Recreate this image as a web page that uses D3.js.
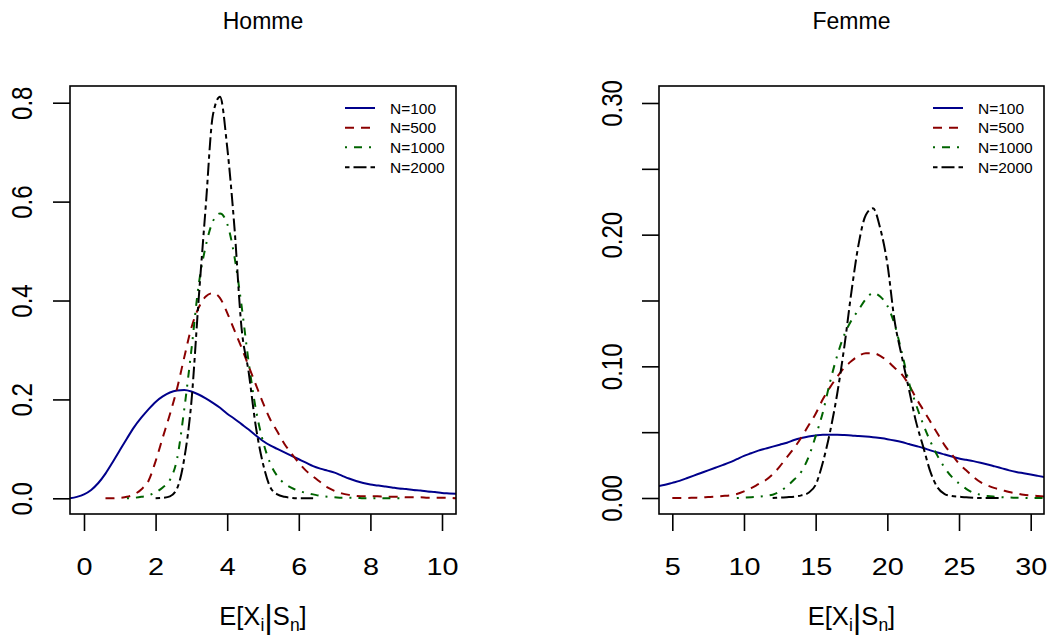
<!DOCTYPE html>
<html>
<head>
<meta charset="utf-8">
<script src="https://cdn.jsdelivr.net/npm/d3@7"></script>
<style>
  html, body { margin: 0; padding: 0; background: #fff; }
  svg { display: block; font-family: "Liberation Sans", Arial, Helvetica, sans-serif; }
</style>
</head>
<body>
<svg id="chart" width="1048" height="637"></svg>
<script>
// ---------------- DATA ----------------
const panelTitles = ["Homme", "Femme"];
const seriesNames = ["N=100", "N=500", "N=1000", "N=2000"];

const hommeX = [-0.4,-0.2,0.0,0.2,0.4,0.6,0.8,1.0,1.2,1.4,1.6,1.8,2.0,2.2,2.4,2.6,2.8,3.0,3.2,3.4,3.6,3.8,4.0,4.2,4.4,4.6,4.8,5.0,5.2,5.4,5.6,5.8,6.0,6.2,6.4,6.6,6.8,7.0,7.2,7.4,7.6,7.8,8.0,8.2,8.4,8.6,8.8,9.0,9.2,9.4,9.6,9.8,10.0,10.2,10.4];
const hommeN100 = [0.000,0.003,0.008,0.017,0.031,0.050,0.073,0.097,0.121,0.144,0.163,0.180,0.195,0.206,0.214,0.218,0.219,0.216,0.210,0.202,0.193,0.183,0.171,0.161,0.150,0.139,0.127,0.116,0.107,0.100,0.093,0.086,0.079,0.072,0.065,0.060,0.056,0.052,0.046,0.040,0.035,0.031,0.028,0.026,0.024,0.022,0.020,0.019,0.017,0.016,0.014,0.013,0.011,0.010,0.009];
const hommeN500 = [null,null,null,null,null,0.000,0.000,0.001,0.003,0.008,0.018,0.035,0.075,0.123,0.170,0.222,0.285,0.345,0.385,0.408,0.415,0.405,0.375,0.340,0.305,0.267,0.230,0.193,0.160,0.135,0.110,0.090,0.072,0.056,0.044,0.033,0.022,0.015,0.010,0.007,0.005,0.004,0.004,0.004,0.003,0.003,0.003,0.002,0.002,0.002,0.001,0.001,0.001,0.001,0.000];
const hommeN1000 = [null,null,null,null,null,null,null,null,0.000,0.001,0.003,0.006,0.012,0.022,0.037,0.080,0.180,0.300,0.430,0.510,0.560,0.576,0.555,0.490,0.390,0.275,0.180,0.115,0.071,0.045,0.030,0.021,0.015,0.011,0.008,0.005,0.003,0.002,0.001,0.001,0.001,0.000,0.000,0.000,0.000,0.000,0.000,0.000,null,null,null,null,null,null,null];
const hommeN2000 = [null,null,null,null,null,null,null,null,null,null,null,null,0.000,0.001,0.004,0.020,0.080,0.195,0.400,0.590,0.775,0.812,0.710,0.550,0.345,0.255,0.145,0.070,0.023,0.008,0.003,0.001,0.000,0.000,0.000,null,null,null,null,null,null,null,null,null,null,null,null,null,null,null,null,null,null,null,null];

const femmeX = [4.0,4.5,5.0,5.5,6.0,6.5,7.0,7.5,8.0,8.5,9.0,9.5,10.0,10.5,11.0,11.5,12.0,12.5,13.0,13.5,14.0,14.5,15.0,15.5,16.0,16.5,17.0,17.5,18.0,18.5,19.0,19.5,20.0,20.5,21.0,21.5,22.0,22.5,23.0,23.5,24.0,24.5,25.0,25.5,26.0,26.5,27.0,27.5,28.0,28.5,29.0,29.5,30.0,30.5,31.0];
const femmeN100 = [0.009,0.010,0.0115,0.013,0.015,0.017,0.019,0.021,0.023,0.025,0.027,0.0295,0.032,0.034,0.036,0.0375,0.039,0.0405,0.042,0.044,0.0455,0.0467,0.0475,0.048,0.048,0.048,0.0478,0.0475,0.047,0.0467,0.0462,0.0455,0.0447,0.0437,0.0425,0.041,0.0395,0.038,0.0362,0.0345,0.033,0.0315,0.030,0.029,0.028,0.0268,0.0255,0.024,0.0225,0.021,0.0198,0.0188,0.0178,0.0168,0.0158];
const femmeN500 = [null,null,0.000,0.000,0.000,0.0002,0.0004,0.0007,0.001,0.0015,0.002,0.003,0.005,0.0075,0.0105,0.0135,0.018,0.024,0.031,0.038,0.046,0.055,0.064,0.075,0.084,0.092,0.099,0.104,0.108,0.110,0.110,0.108,0.104,0.099,0.094,0.086,0.076,0.067,0.058,0.049,0.040,0.033,0.026,0.021,0.016,0.012,0.0095,0.0075,0.006,0.0045,0.0035,0.0025,0.002,0.0015,0.001];
const femmeN1000 = [null,null,null,null,null,null,null,null,null,null,null,0.000,0.0003,0.0006,0.001,0.0017,0.0025,0.005,0.009,0.014,0.020,0.031,0.047,0.065,0.088,0.108,0.124,0.135,0.143,0.151,0.1557,0.153,0.146,0.132,0.111,0.088,0.071,0.056,0.043,0.032,0.023,0.016,0.011,0.007,0.004,0.0025,0.0015,0.001,0.0006,0.0004,0.0002,0.0001,0.000,0.000,0.000];
const femmeN2000 = [null,null,null,null,null,null,null,null,null,null,null,null,null,null,null,null,0.000,0.0003,0.0006,0.001,0.002,0.004,0.010,0.027,0.050,0.079,0.115,0.157,0.193,0.215,0.220,0.205,0.178,0.135,0.108,0.083,0.058,0.039,0.020,0.008,0.003,0.0015,0.001,0.0005,0.0002,0.000,0.000,0.000,0.000,null,null,null,null,null,null];

const hommeXTicks = [0, 2, 4, 6, 8, 10];
const hommeYTicks = [0, 0.2, 0.4, 0.6, 0.8];
const hommeYLabels = ["0.0", "0.2", "0.4", "0.6", "0.8"];
const femmeXTicks = [5, 10, 15, 20, 25, 30];
const femmeYTicks = [0, 0.05, 0.10, 0.15, 0.20, 0.25, 0.30];
const femmeYLabels = ["0.00", "", "0.10", "", "0.20", "", "0.30"];

// ---------------- STYLE ----------------
const seriesColors = ["#00008B", "#8B0000", "#006400", "#000000"];
const seriesDash = [null, "9,7", "2,7,8,7", "4.5,4,13,4"];
const FONT_TICK = 24;
const STRETCH = 1.2;   // tick labels are wider than tall in the reference

const panels = [
  { title: panelTitles[0], x: hommeX, series: [hommeN100, hommeN500, hommeN1000, hommeN2000],
    xDomain: [-0.391, 10.391], yDomain: [-0.0317, 0.8338],
    xTicks: hommeXTicks, yTicks: hommeYTicks, yLabels: hommeYLabels,
    left: 70, right: 456 },
  { title: panelTitles[1], x: femmeX, series: [femmeN100, femmeN500, femmeN1000, femmeN2000],
    xDomain: [4.072, 30.928], yDomain: [-0.01215, 0.3129],
    xTicks: femmeXTicks, yTicks: femmeYTicks, yLabels: femmeYLabels,
    left: 659, right: 1044 }
];
const TOP = 86, BOTTOM = 514;

const svg = d3.select("#chart");

panels.forEach((p, pi) => {
  const x = d3.scaleLinear().domain(p.xDomain).range([p.left, p.right]);
  const y = d3.scaleLinear().domain(p.yDomain).range([BOTTOM, TOP]);
  const g = svg.append("g");

  const clipId = "clip" + pi;
  svg.append("clipPath").attr("id", clipId)
    .append("rect").attr("x", p.left).attr("y", TOP)
    .attr("width", p.right - p.left).attr("height", BOTTOM - TOP);

  // curves
  const curves = g.append("g").attr("clip-path", `url(#${clipId})`);
  p.series.forEach((vals, si) => {
    const pts = p.x.map((xv, i) => [xv, vals[i]]);
    const line = d3.line()
      .defined(d => d[1] !== null)
      .x(d => x(d[0])).y(d => y(d[1]))
      .curve(d3.curveMonotoneX);
    curves.append("path")
      .attr("d", line(pts))
      .attr("fill", "none")
      .attr("stroke", seriesColors[si])
      .attr("stroke-width", 2)
      .attr("stroke-dasharray", seriesDash[si]);
  });

  // box
  g.append("rect").attr("x", p.left).attr("y", TOP)
    .attr("width", p.right - p.left).attr("height", BOTTOM - TOP)
    .attr("fill", "none").attr("stroke", "#000").attr("stroke-width", 1.6);

  // x axis
  const xAxis = d3.axisBottom(x).tickValues(p.xTicks).tickSize(17).tickSizeOuter(0)
    .tickFormat(d3.format("d"));
  const gx = g.append("g").attr("transform", `translate(0,${BOTTOM})`).call(xAxis);
  gx.select(".domain").remove();
  gx.selectAll(".tick line").attr("stroke", "#000").attr("stroke-width", 1.6);
  gx.selectAll(".tick text").attr("y", 61).attr("dy", 0)
    .attr("transform", `scale(${STRETCH},1)`)
    .attr("font-size", FONT_TICK).attr("fill", "#000")
    .attr("font-family", "'Liberation Sans', Arial, sans-serif");

  // y axis
  const yAxis = d3.axisLeft(y).tickValues(p.yTicks).tickSize(17).tickSizeOuter(0)
    .tickFormat((d, i) => p.yLabels[i]);
  const gy = g.append("g").attr("transform", `translate(${p.left},0)`).call(yAxis);
  gy.select(".domain").remove();
  gy.selectAll(".tick line").attr("stroke", "#000").attr("stroke-width", 1.6);
  const yOff = pi === 0 ? 38.5 : 37;
  gy.selectAll(".tick text")
    .attr("x", 0).attr("y", -yOff / STRETCH).attr("dy", 0)
    .attr("text-anchor", "middle")
    .attr("transform", `rotate(-90) scale(1,${STRETCH})`)
    .attr("font-size", FONT_TICK).attr("fill", "#000")
    .attr("font-family", "'Liberation Sans', Arial, sans-serif");

  const cx = (p.left + p.right) / 2;
  // title
  g.append("text").attr("x", cx).attr("y", 29)
    .attr("text-anchor", "middle").attr("font-size", 23)
    .text(p.title);

  // x label E[X_i | S_n]
  const xl = g.append("text").attr("x", cx).attr("y", 625)
    .attr("text-anchor", "middle").attr("font-size", 25.5);
  xl.append("tspan").text("E[X");
  xl.append("tspan").attr("font-size", 17.5).attr("dy", 6).text("i");
  xl.append("tspan").attr("font-size", 33).attr("dy", -3).text("|");
  xl.append("tspan").attr("font-size", 25.5).attr("dy", -3).text("S");
  xl.append("tspan").attr("font-size", 17.5).attr("dy", 6).text("n");
  xl.append("tspan").attr("font-size", 25.5).attr("dy", -6).text("]");

  // legend
  const lg = g.append("g");
  const rowY = [108, 127.7, 147.3, 167.2];
  seriesNames.forEach((name, si) => {
    const ly = rowY[si];
    lg.append("line")
      .attr("x1", p.right - 111).attr("x2", p.right - 81)
      .attr("y1", ly).attr("y2", ly)
      .attr("stroke", seriesColors[si]).attr("stroke-width", 2)
      .attr("stroke-dasharray", seriesDash[si]);
    lg.append("text").attr("x", p.right - 66).attr("y", ly)
      .attr("dy", "0.36em").attr("font-size", 15.5).attr("fill", "#000")
      .text(name);
  });
});
</script>
</body>
</html>
